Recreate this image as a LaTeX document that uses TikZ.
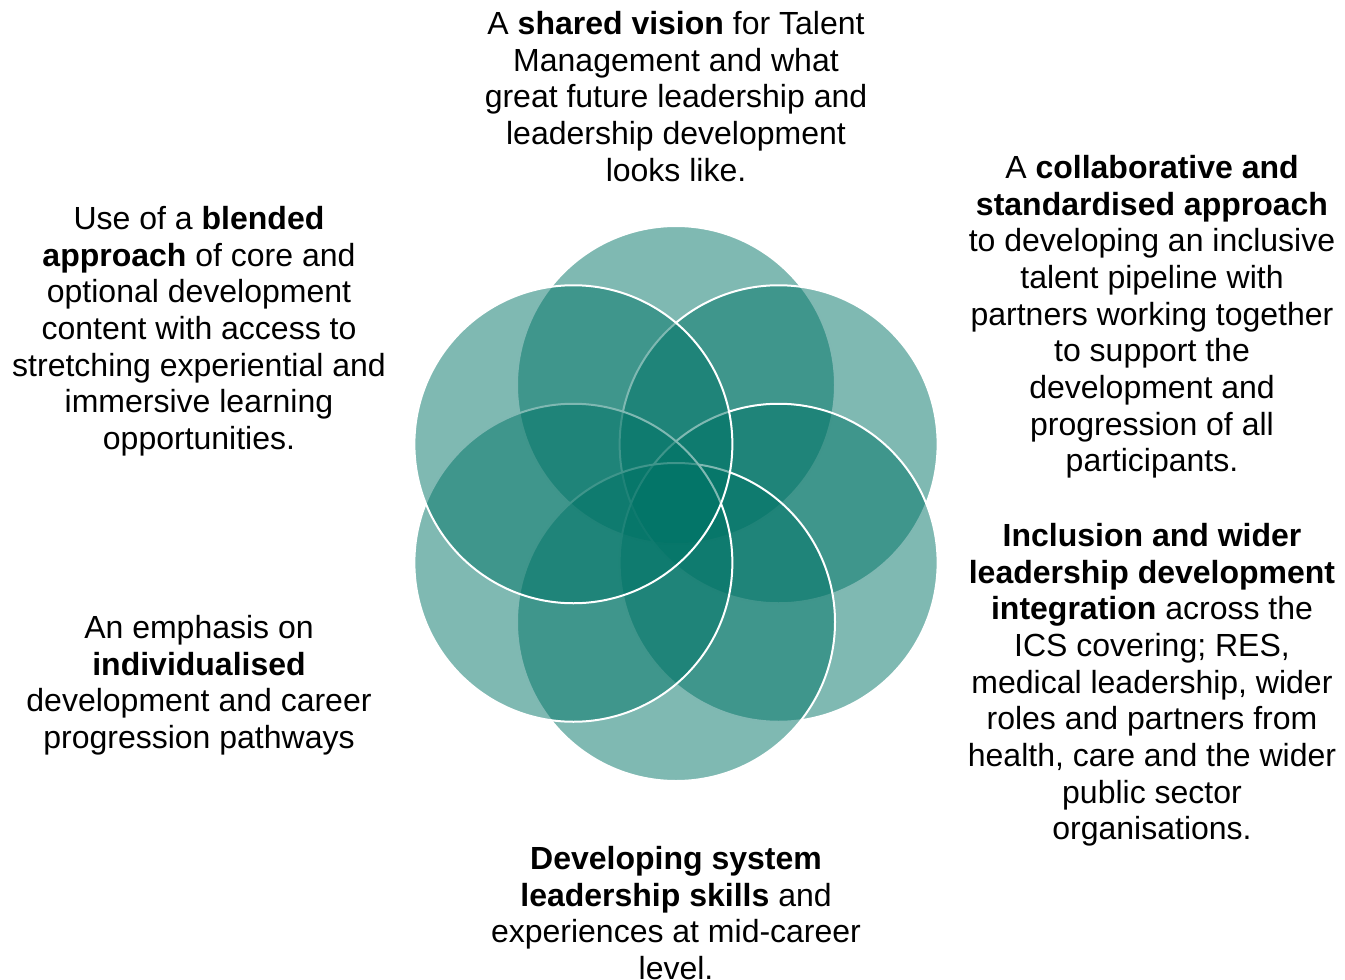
\documentclass[tikz,border=0pt]{standalone}
\usepackage{fontspec}
\setmainfont{Liberation Sans}
\usepackage{xcolor}
\definecolor{petalteal}{RGB}{0,115,102}

\begin{document}
\begin{tikzpicture}[x=1pt,y=-1pt,
    petal/.style={fill=petalteal,fill opacity=0.5,draw=white,line width=2pt},
    note/.style={align=center,anchor=north,inner sep=0pt,
      font=\fontsize{32}{36.7}\selectfont,
      execute at begin node={\rule{0pt}{29pt}}}]
      \useasboundingbox (0,0) rectangle (1345,980);
      \coordinate (hub) at (676,503.5);%中心
      \foreach \a in {270,330,30,90,150,210}
        \draw[petal] (hub) ++(\a:118.5) circle[radius=159pt];%円を時計回りに
      \node[note] (vision) at (676,11) {A \textbf{shared vision} for Talent\\Management and what\\great future leadership and\\leadership development\\looks like.};
      \node[note] (collab) at (1152,155) {A \textbf{collaborative and}\\\textbf{standardised approach}\\to developing an inclusive\\talent pipeline with\\partners working together\\to support the\\development and\\progression of all\\participants.};
      \node[note] (inclusion) at (1152,523) {\textbf{Inclusion and wider}\\\textbf{leadership development}\\\textbf{integration} across the\\ICS covering; RES,\\medical leadership, wider\\roles and partners from\\health, care and the wider\\public sector\\organisations.};
      \node[note] (system) at (676,846) {\textbf{Developing system}\\\textbf{leadership skills} and\\experiences at mid-career\\level.};
      \node[note] (individual) at (199,615) {An emphasis on\\\textbf{individualised}\\development and career\\progression pathways};
      \node[note] (blended) at (199,206) {Use of a \textbf{blended}\\\textbf{approach} of core and\\optional development\\content with access to\\stretching experiential and\\immersive learning\\opportunities.};
    \end{tikzpicture}
\end{document}
